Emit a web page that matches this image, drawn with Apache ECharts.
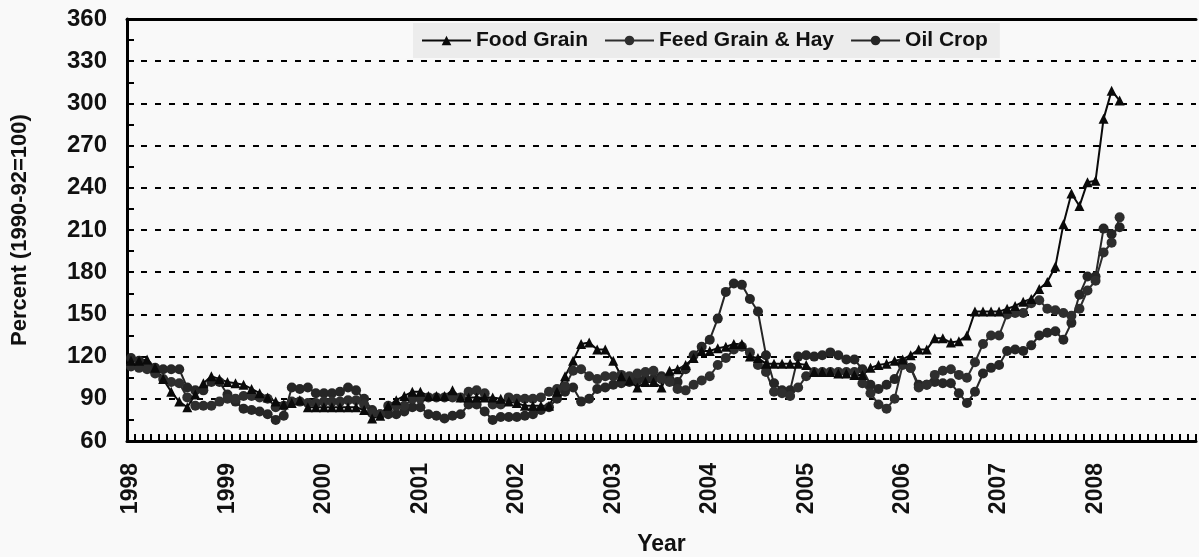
<!DOCTYPE html>
<html>
<head>
<meta charset="utf-8">
<title>Prices received index</title>
<script src="https://cdn.jsdelivr.net/npm/echarts@6/dist/echarts.min.js"></script>
<style>
  html, body { margin: 0; padding: 0; background: #f9f9f9; }
  #chart { width: 1199px; height: 557px; }
</style>
</head>
<body>
<div id="chart"></div>
<script>
// monthly categories, Jan 1998 .. Jan 2009
const months = [];
for (let y = 1998; y <= 2009; y++) {
  for (let m = 1; m <= 12; m++) {
    if (months.length < 133) months.push(y + '-' + (m < 10 ? '0' : '') + m);
  }
}
const yearLabels = ['1998','1999','2000','2001','2002','2003','2004','2005','2006','2007','2008'];

// Jan 1998 .. Apr 2008
const foodGrain = [
  117,117,118,112,104,95,88,84,93,101,106,104,
  102,101,100,97,94,91,88,86,87,89,84,84,
  84,84,84,84,84,82,76,78,85,89,92,95,
  95,92,92,92,96,91,91,91,91,91,90,88,
  87,85,85,85,85,95,106,117,129,130,125,125,
  117,106,103,98,102,102,98,110,111,114,119,124,
  124,126,127,129,129,120,119,115,115,115,115,115,
  114,109,109,109,108,108,107,107,112,114,115,117,
  118,121,125,125,133,133,130,131,135,152,152,152,
  152,154,156,159,161,168,173,184,214,236,227,244,
  245,289,309,302
];
const feedGrain = [
  113,112,111,108,104,102,101,91,85,85,85,88,
  90,90,92,92,91,90,84,85,88,88,87,87,
  88,88,88,89,89,86,80,79,85,85,85,90,
  90,91,91,91,91,91,95,96,94,86,86,91,
  90,90,90,91,95,97,99,110,111,106,104,106,
  106,107,106,108,109,110,104,102,97,96,100,103,
  106,114,119,125,127,123,114,109,95,94,92,98,
  106,109,109,109,109,109,109,101,94,86,83,90,
  114,112,98,100,107,110,111,107,105,116,129,135,
  135,150,151,151,158,160,154,153,151,149,154,167,
  174,194,201,219
];
const oilCrop = [
  119,117,114,112,111,111,111,98,96,96,102,102,
  93,88,83,82,81,79,75,78,98,97,98,94,
  94,94,95,98,96,90,82,79,79,79,81,84,
  84,79,78,76,78,79,86,86,81,75,77,77,
  77,78,79,82,84,90,95,98,88,90,97,98,
  100,101,102,103,104,104,106,104,102,111,121,127,
  132,147,166,172,171,161,152,121,101,96,96,120,
  121,120,121,123,121,118,118,111,100,97,100,104,
  116,112,100,100,102,101,101,94,87,95,108,112,
  114,124,125,124,128,135,137,138,132,144,164,177,
  177,211,207,212
];

const font = 'Liberation Sans, Arial, sans-serif';
const chart = echarts.init(document.getElementById('chart'));
chart.setOption({
  backgroundColor: '#f9f9f9',
  animation: false,
  legend: {
    data: ['Food Grain', 'Feed Grain & Hay', 'Oil Crop'],
    left: 413,
    top: 23,
    padding: [7, 12, 7, 8],
    backgroundColor: '#ececec',
    itemWidth: 49,
    itemHeight: 12,
    itemGap: 16,
    textStyle: { fontFamily: font, fontWeight: 'bold', fontSize: 21, color: '#111' }
  },
  grid: { left: 127, right: 3, top: 19, bottom: 116, outerBoundsMode: 'none' },
  xAxis: [{
    type: 'category',
    data: months,
    name: 'Year',
    nameLocation: 'middle',
    nameGap: 92,
    nameTextStyle: { fontFamily: font, fontWeight: 'bold', fontSize: 23, color: '#111' },
    axisLine: { lineStyle: { color: '#000', width: 3 } },
    axisTick: { show: true, inside: true, interval: 0, length: 7, lineStyle: { color: '#000', width: 2 } },
    axisLabel: {
      interval: (idx, val) => yearLabels.indexOf(val.slice(0, 4)) >= 0 && val.slice(5) === '01',
      formatter: val => val.slice(0, 4),
      rotate: 90,
      margin: 22,
      fontFamily: font, fontWeight: 'bold', fontSize: 23, color: '#111'
    },
    splitLine: { show: false }
  }, {
    type: 'category',
    data: months,
    position: 'top',
    axisLine: { lineStyle: { color: '#000', width: 3 } },
    axisTick: { show: false },
    axisLabel: { show: false }
  }],
  yAxis: {
    type: 'value',
    min: 60,
    max: 360,
    interval: 30,
    name: 'Percent (1990-92=100)',
    nameLocation: 'middle',
    nameGap: 96,
    nameTextStyle: { fontFamily: font, fontWeight: 'bold', fontSize: 22, color: '#111' },
    axisLine: { show: true, lineStyle: { color: '#000', width: 3 } },
    axisTick: { show: true, inside: true, length: 7, lineStyle: { color: '#000', width: 2 } },
    minorTick: { show: true, splitNumber: 2, length: 7, lineStyle: { color: '#000', width: 2 } },
    axisLabel: { margin: 20, fontFamily: font, fontWeight: 'bold', fontSize: 24, color: '#111' },
    splitLine: { show: true, lineStyle: { color: '#000', width: 2, type: [6, 8] } }
  },
  series: [
    {
      name: 'Oil Crop',
      type: 'line',
      data: oilCrop,
      symbol: 'circle',
      symbolSize: 10,
      showAllSymbol: true,
      color: '#262626',
      lineStyle: { width: 2, color: '#262626' },
      itemStyle: { color: '#262626' }
    },
    {
      name: 'Feed Grain & Hay',
      type: 'line',
      data: feedGrain,
      symbol: 'circle',
      symbolSize: 10,
      showAllSymbol: true,
      color: '#2e2e2e',
      lineStyle: { width: 2, color: '#2e2e2e' },
      itemStyle: { color: '#2e2e2e' }
    },
    {
      name: 'Food Grain',
      type: 'line',
      data: foodGrain,
      symbol: 'triangle',
      symbolSize: 10,
      showAllSymbol: true,
      color: '#0a0a0a',
      lineStyle: { width: 2, color: '#0a0a0a' },
      itemStyle: { color: '#0a0a0a' }
    }
  ]
});
</script>
</body>
</html>
